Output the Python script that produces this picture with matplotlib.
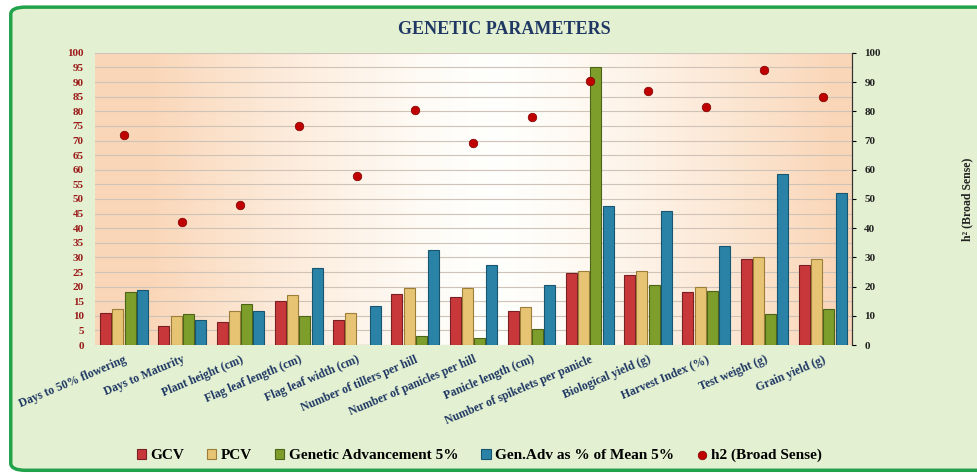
import numpy as np
import matplotlib
matplotlib.use("Agg")
import matplotlib.pyplot as plt
from matplotlib.patches import FancyBboxPatch

plt.rcParams['font.family'] = ['Liberation Serif', 'DejaVu Serif']

traits = ["Days to 50% flowering", "Days to Maturity", "Plant height (cm)",
          "Flag leaf length (cm)", "Flag leaf width (cm)", "Number of tillers per hill",
          "Number of panicles per hill", "Panicle length (cm)",
          "Number of spikelets per panicle", "Biological yield (g)",
          "Harvest Index (%)", "Test weight (g)", "Grain yield (g)"]
gcv = [11, 6.5, 8, 15, 8.5, 17.5, 16.5, 11.5, 24.5, 24, 18, 29.5, 27.5]
pcv = [12.5, 10, 11.5, 17, 11, 19.5, 19.5, 13, 25.5, 25.5, 20, 30, 29.5]
gen_adv = [18, 10.5, 14, 10, 0, 3, 2.5, 5.5, 95, 20.5, 18.5, 10.5, 12.5]
gam = [19, 8.5, 11.5, 26.5, 13.5, 32.5, 27.5, 20.5, 47.5, 46, 34, 58.5, 52]
h2 = [72, 42, 48, 75, 58, 80.5, 69, 78, 90.5, 87, 81.5, 94, 85]

fig = plt.figure(figsize=(9.78, 4.76), dpi=100)
fig.patch.set_facecolor('white')

# green framed panel (right edge runs off the image)
bg = fig.add_axes([0, 0, 1, 1], zorder=-10)
bg.set_xlim(0, 1); bg.set_ylim(0, 1); bg.axis('off')
bg.add_patch(FancyBboxPatch((0.011, 0.012), 1.05, 0.973,
                            boxstyle="round,pad=0,rounding_size=0.015",
                            facecolor=(0.89, 0.94, 0.82), edgecolor='#22A24A', lw=2.5))

ax = fig.add_axes([0.097, 0.275, 0.774, 0.614])
x = np.arange(len(traits))
w = 0.21

# peach gradient background in plot area
t = np.linspace(-1, 1, 300)
k = np.clip(np.abs(t - 0.05) * 1.1, 0, 1) ** 1.4
peach = np.array([0.98, 0.84, 0.72]); white = np.array([1.0, 1.0, 0.99])
row = white + (peach - white) * k[:, None]
ax.imshow(row[None, :, :], extent=[-0.5, len(traits) - 0.5, 0, 100],
          aspect='auto', zorder=0)

colors = ['#C8383B', '#E6C474', '#7E9E2C', '#2A83A6']
edges = ['#7A1F22', '#9C7E3A', '#4C6418', '#175570']
labels = ['GCV', 'PCV', 'Genetic Advancement 5%', 'Gen.Adv as % of Mean 5%']
series = [gcv, pcv, gen_adv, gam]
handles = []
for i, (vals, c, e, lab) in enumerate(zip(series, colors, edges, labels)):
    b = ax.bar(x + (i - 1.5) * w, vals, width=w * 0.9, color=c, edgecolor=e,
               linewidth=0.8, zorder=3, label=lab)
    handles.append(b)

ax.set_xlim(-0.5, len(traits) - 0.5)
ax.set_ylim(0, 100)
ax.set_yticks(np.arange(0, 101, 5))
ax.yaxis.grid(True, color='#CFC3B8', lw=0.8, zorder=1)
ax.set_axisbelow(True)
ax.tick_params(axis='y', length=0, labelsize=8, labelcolor='#9B1B1B', pad=8)
for lbl in ax.get_yticklabels():
    lbl.set_fontweight('bold')
ax.set_xticks(x)
ax.set_xticklabels(traits, rotation=23, ha='right', rotation_mode='anchor',
                   fontsize=8.5, fontweight='bold', color='#1F3864')
ax.tick_params(axis='x', length=0, pad=6)
for s in ['top', 'left', 'bottom']:
    ax.spines[s].set_visible(False)
ax.spines['right'].set_color('#555555')

ax2 = ax.twinx()
ax2.set_ylim(0, 100)
ax2.set_yticks(np.arange(0, 101, 10))
ax2.tick_params(axis='y', length=3, labelsize=8, labelcolor='#222222', pad=6)
for lbl in ax2.get_yticklabels():
    lbl.set_fontweight('bold')
for s in ['top', 'left', 'bottom']:
    ax2.spines[s].set_visible(False)
ax2.spines['right'].set_color('#333333')
sc = ax2.scatter(x, h2, s=38, color='#C00000', edgecolor='#7A0000', lw=0.5,
                 zorder=5, label='h2 (Broad Sense)')
ax2.set_ylabel('h² (Broad Sense)', fontsize=8.5, fontweight='bold', labelpad=58,
               color='#222222')

fig.text(0.516, 0.937, 'GENETIC PARAMETERS', ha='center', va='center',
         fontsize=13, fontweight='bold', color='#1F3864')

fig.legend(handles + [sc], labels + ['h2 (Broad Sense)'], loc='center',
           bbox_to_anchor=(0.49, 0.043), ncol=5, frameon=False,
           prop={'size': 11, 'weight': 'bold'}, handlelength=0.6,
           handleheight=0.6, handletextpad=0.3, columnspacing=1.5)

fig.savefig('out.png', dpi=100)
